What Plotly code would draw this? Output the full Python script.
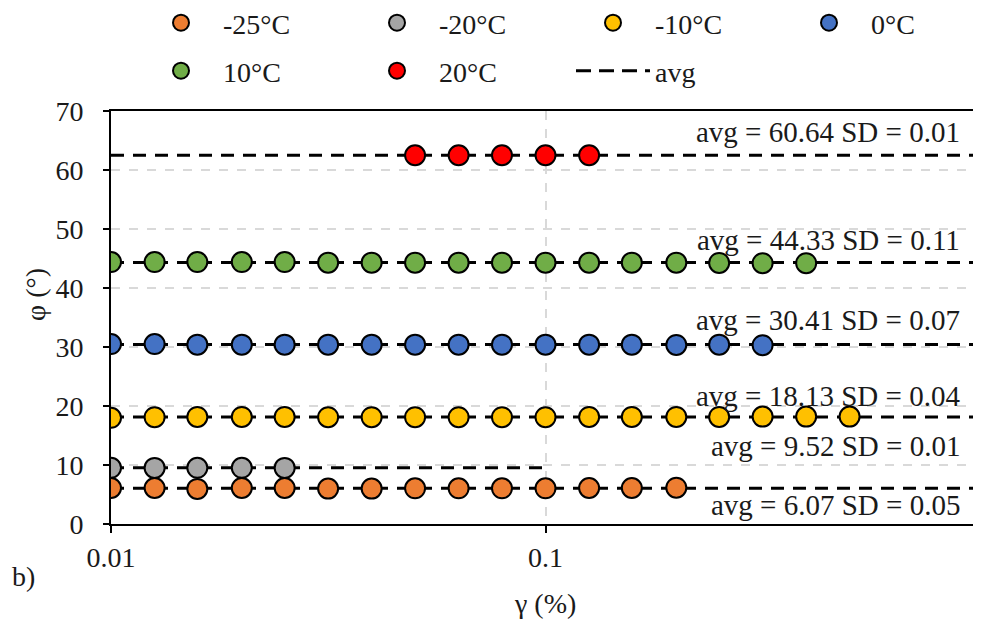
import plotly.graph_objects as go

# ---- data ----
gamma = [0.01, 0.0126, 0.0158, 0.02, 0.0251, 0.0316, 0.0398, 0.0501, 0.0631,
         0.0794, 0.1, 0.126, 0.158, 0.2, 0.251, 0.316, 0.398, 0.501]

series_names = ["-25°C", "-20°C", "-10°C", "0°C", "10°C", "20°C"]
series_colors = ["#ED7D31", "#A5A5A5", "#FFC000", "#4472C4", "#70AD47", "#FF0000"]
series_start = [0, 0, 0, 0, 0, 7]

phi_m25 = [6.1, 6.1, 5.95, 6.1, 6.1, 6.0, 6.0, 6.05, 6.05, 6.05, 6.05, 6.1, 6.1, 6.15]
phi_m20 = [9.52, 9.51, 9.52, 9.53, 9.51]
phi_m10 = [18.0, 18.1, 18.15, 18.15, 18.15, 18.1, 18.1, 18.1, 18.1, 18.1, 18.1,
           18.15, 18.15, 18.15, 18.15, 18.2, 18.2, 18.2]
phi_0 = [30.5, 30.5, 30.4, 30.4, 30.4, 30.4, 30.4, 30.4, 30.4, 30.4, 30.4,
         30.4, 30.4, 30.35, 30.4, 30.3]
phi_10 = [44.4, 44.4, 44.4, 44.4, 44.4, 44.3, 44.3, 44.3, 44.3, 44.3, 44.3,
          44.3, 44.3, 44.3, 44.25, 44.2, 44.2]
phi_20 = [62.5, 62.5, 62.5, 62.5, 62.5]
series_values = [phi_m25, phi_m20, phi_m10, phi_0, phi_10, phi_20]

avg_level = [6.07, 9.52, 18.13, 30.41, 44.33, 62.5]
avg_x_end = [1, 0.1, 1, 1, 1, 1]
avg_labels = ["avg = 6.07 SD = 0.05", "avg = 9.52 SD = 0.01", "avg = 18.13 SD = 0.04",
              "avg = 30.41 SD = 0.07", "avg = 44.33 SD = 0.11", "avg = 60.64 SD = 0.01"]
label_y = [3.2, 13.2, 21.7, 34.6, 48.1, 66.4]

FONT = "Liberation Serif"
FS = 28
TXT = "#1a1a1a"

# page body has an 8px margin: figure is sized/offset to compensate
W, H = 973, 611
L, T, R, B = 103, 103, 1, 95
PW, PH = W - L - R, H - T - B

fig = go.Figure()

# avg dashed lines (behind markers)
for i in range(len(series_names)):
    fig.add_trace(go.Scatter(
        x=[0.01, avg_x_end[i]], y=[avg_level[i], avg_level[i]], mode="lines",
        line=dict(color="black", width=3, dash="13px,9px"),
        name="avg", legend="legend2", showlegend=False, hoverinfo="skip"))

for i, name in enumerate(series_names):
    s = series_start[i]
    xs = gamma[s:s + len(series_values[i])]
    fig.add_trace(go.Scatter(
        x=xs, y=series_values[i], mode="markers", name=name,
        legend="legend" if i < 4 else "legend2",
        marker=dict(size=20, color=series_colors[i], line=dict(color="black", width=2))))

# legend entry for avg
fig.add_trace(go.Scatter(
    x=[None], y=[None], mode="lines", name="avg", legend="legend2",
    line=dict(color="black", width=3, dash="15px,8px")))

for i, txt in enumerate(avg_labels):
    fig.add_annotation(x=(954 - L) / PW, xref="x domain", xanchor="right", yanchor="middle",
                       y=label_y[i], yref="y", text=txt, showarrow=False,
                       font=dict(family=FONT, size=29, color=TXT))

def side_text(px, py, text, angle=0):
    fig.add_annotation(x=(px - L) / PW, y=(T + PH - py) / PH, xref="x domain", yref="y domain",
                       xanchor="center", yanchor="middle", text=text, textangle=angle,
                       showarrow=False, font=dict(family=FONT, size=FS, color=TXT))

side_text(15, 568, "b)")
side_text(537, 595, "γ (%)")
side_text(27, 287, "φ (°)", -90)

grid_col = "#d9d9d9"
leg_common = dict(orientation="h", xref="container", yref="container",
                  yanchor="middle", xanchor="left",
                  entrywidth=127, entrywidthmode="pixels", itemsizing="trace",
                  itemwidth=74,
                  font=dict(family=FONT, size=FS, color=TXT), bgcolor="rgba(0,0,0,0)")
fig.update_layout(
    width=W, height=H,
    margin=dict(l=L, r=R, t=T, b=B, autoexpand=False),
    paper_bgcolor="white", plot_bgcolor="white",
    font=dict(family=FONT, size=FS, color=TXT),
    legend=dict(leg_common, x=131 / W, y=1 - 15 / H),
    legend2=dict(leg_common, x=131 / W, y=1 - 63 / H),
    xaxis=dict(type="log", range=[-2, 0], tickvals=[0.01, 0.1, 1],
               ticktext=["0.01", "0.1", "1"], ticks="outside", ticklen=7,
               tickwidth=2, tickcolor="black", automargin=False,
               showline=True, linecolor="black", linewidth=2, mirror=True,
               showgrid=True, gridcolor=grid_col, griddash="dash", gridwidth=1.5,
               zeroline=False, tickfont=dict(family=FONT, size=FS, color=TXT)),
    yaxis=dict(range=[0, 70], dtick=10, ticks="outside", ticklen=6,
               tickwidth=2, tickcolor="black", automargin=False,
               ticksuffix="\u00a0\u00a0",
               showline=True, linecolor="black", linewidth=2, mirror=True,
               showgrid=True, gridcolor=grid_col, griddash="dash", gridwidth=1.5,
               zeroline=False, tickfont=dict(family=FONT, size=FS, color=TXT)),
)

fig.write_html("out.html")
